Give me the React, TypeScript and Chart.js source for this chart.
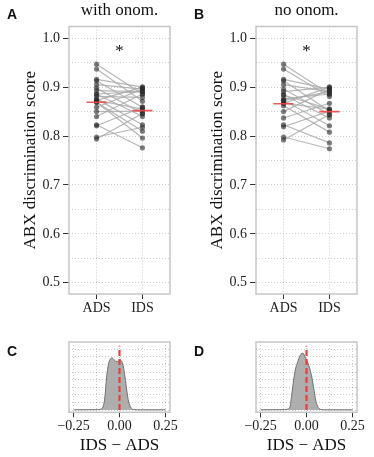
import React, { useEffect, useRef } from 'react';
import { Chart, registerables } from 'chart.js';
Chart.register(...registerables);

// ---------- data ----------
const conditions = ['ADS', 'IDS'];
const panelTitles = ['with onom.', 'no onom.'];
const panelLetters = ['A', 'B', 'C', 'D'];
const scoreTickLabels = [0.5, 0.6, 0.7, 0.8, 0.9, 1.0];
const scoreGrid = [0.5, 0.55, 0.6, 0.65, 0.7, 0.75, 0.8, 0.85, 0.9, 0.95, 1.0];

const adsWithOnom = [0.947, 0.937, 0.916, 0.913, 0.905, 0.898, 0.893, 0.886, 0.881, 0.876, 0.873, 0.869, 0.859, 0.85, 0.84, 0.823, 0.821, 0.798, 0.794, 0.869, 0.886, 0.873];
const idsWithOnom = [0.886, 0.871, 0.9, 0.859, 0.896, 0.846, 0.891, 0.84, 0.879, 0.823, 0.855, 0.81, 0.896, 0.851, 0.886, 0.776, 0.859, 0.818, 0.846, 0.796, 0.891, 0.9];
const meansWithOnom = [0.869, 0.852];

const adsNoOnom = [0.947, 0.937, 0.916, 0.913, 0.905, 0.896, 0.891, 0.884, 0.876, 0.873, 0.867, 0.862, 0.85, 0.837, 0.823, 0.819, 0.798, 0.792, 0.873, 0.867, 0.884];
const idsNoOnom = [0.886, 0.881, 0.896, 0.851, 0.891, 0.844, 0.9, 0.837, 0.886, 0.821, 0.855, 0.808, 0.896, 0.867, 0.786, 0.851, 0.774, 0.844, 0.891, 0.9, 0.855];
const meansNoOnom = [0.866, 0.85];

const diffValues = [-0.25, -0.12, -0.1, -0.09, -0.08, -0.07, -0.06, -0.05, -0.04, -0.03, -0.02, -0.01, 0.0, 0.01, 0.02, 0.03, 0.04, 0.05, 0.06, 0.07, 0.08, 0.1, 0.25];
const densityWithOnom = [0.05, 0.1, 0.26, 0.8, 3.2, 8.7, 12.1, 13.4, 13.7, 13.3, 12.8, 12.8, 13.2, 13.0, 11.6, 8.7, 5.0, 2.1, 0.8, 0.26, 0.12, 0.05, 0.05];
const densityNoOnom = [0.05, 0.1, 0.26, 0.8, 4.2, 7.9, 10.8, 12.4, 13.7, 14.7, 15.0, 14.2, 13.2, 12.1, 10.5, 8.4, 5.5, 2.6, 1.05, 0.34, 0.13, 0.05, 0.05];
const diffTicks = [-0.25, 0, 0.25];
const diffTickLabels = ['\u22120.25', '0.00', '0.25'];
const diffGrid = [-0.25, -0.125, 0, 0.125, 0.25];
const densityGrid = [0, 2, 4, 6, 8, 10, 12, 14, 16];
const refLineTop = 16.7;

// ---------- styles ----------
const SERIF = 'Liberation Serif';
const SANS = 'Liberation Sans';
const GRID_COLOR = 'rgba(0,0,0,0.2)';
const FRAME_COLOR = '#c6c6c6';

const textPlugin = (items: any[]) => ({
  id: 'texts',
  afterDraw(chart: any) {
    const ctx = chart.ctx;
    const ca = chart.chartArea;
    ctx.save();
    ctx.strokeStyle = FRAME_COLOR;
    ctx.lineWidth = 1.5;
    ctx.strokeRect(ca.left, ca.top, ca.right - ca.left, ca.bottom - ca.top);
    for (const it of items) {
      const p = it.pos(chart);
      ctx.font = it.font;
      ctx.fillStyle = it.color || '#111';
      ctx.textAlign = it.align || 'left';
      ctx.textBaseline = 'alphabetic';
      ctx.fillText(it.text, p.x, p.y);
    }
    ctx.restore();
  },
});

function scoreConfig(ads: number[], ids: number[], means: number[], title: string, letter: string) {
  const pairSets = ads.map((a, i) => ({
    data: [{ x: 1, y: a }, { x: 2, y: ids[i] }],
    showLine: true,
    borderColor: 'rgba(170,170,170,0.85)',
    borderWidth: 1.2,
    pointRadius: 0,
    order: 3,
  }));
  const pointSet = {
    data: [...ads.map((y) => ({ x: 1, y })), ...ids.map((y) => ({ x: 2, y }))],
    pointRadius: 2.6,
    pointBackgroundColor: 'rgba(40,40,40,0.6)',
    pointBorderWidth: 0,
    order: 2,
  };
  const meanSets = means.map((m, i) => ({
    data: [{ x: i + 1 - 0.22, y: m }, { x: i + 1 + 0.22, y: m }],
    showLine: true,
    borderColor: 'rgba(240,70,70,0.9)',
    borderWidth: 1.6,
    pointRadius: 0,
    order: 1,
  }));
  return {
    type: 'scatter',
    data: { datasets: [...meanSets, pointSet, ...pairSets] },
    options: {
      animation: false,
      responsive: false,
      events: [],
      layout: { padding: { top: 26.5, right: 17, left: 0, bottom: 0 } },
      plugins: { legend: { display: false }, tooltip: { enabled: false } },
      scales: {
        x: {
          type: 'linear',
          min: 0.4,
          max: 2.6,
          afterBuildTicks: (s: any) => { s.ticks = [{ value: 1 }, { value: 2 }]; },
          afterFit: (s: any) => { s.height = 26; },
          ticks: {
            autoSkip: false,
            callback: (v: number) => conditions[Math.round(v) - 1],
            font: { family: SERIF, size: 14 },
            color: '#222',
            padding: 1,
            maxRotation: 0,
          },
          grid: { color: GRID_COLOR, lineWidth: 1, tickLength: 5, tickColor: '#333', tickWidth: 1 },
          border: { display: false, dash: [1, 2] },
        },
        y: {
          type: 'linear',
          min: 0.477,
          max: 1.024,
          afterBuildTicks: (s: any) => { s.ticks = scoreGrid.map((v) => ({ value: v })); },
          afterFit: (s: any) => { s.width = 69; },
          ticks: {
            autoSkip: false,
            callback: (v: number) => (scoreTickLabels.some((t) => Math.abs(t - v) < 1e-6) ? v.toFixed(1) : ''),
            font: { family: SERIF, size: 14 },
            color: '#222',
            padding: 3,
          },
          grid: {
            color: GRID_COLOR,
            lineWidth: 1,
            tickLength: 6,
            tickWidth: 1,
            tickColor: (c: any) => (c.tick && scoreTickLabels.some((t) => Math.abs(t - c.tick.value) < 1e-6) ? '#333' : 'rgba(0,0,0,0)'),
          },
          border: { display: false, dash: [1, 2] },
          title: {
            display: true,
            text: 'ABX discrimination score',
            font: { family: SERIF, size: 17 },
            color: '#111',
            padding: { top: 20, bottom: 0 },
          },
        },
      },
    },
    plugins: [
      textPlugin([
        { text: letter, font: `bold 14px ${SANS}`, pos: () => ({ x: 7, y: 19 }) },
        { text: title, font: `17px ${SERIF}`, align: 'center', pos: (ch: any) => ({ x: (ch.chartArea.left + ch.chartArea.right) / 2, y: 15 }) },
        { text: '*', font: `17px ${SERIF}`, align: 'center', pos: (ch: any) => ({ x: ch.scales.x.getPixelForValue(1.5), y: ch.scales.y.getPixelForValue(0.98) + 8 }) },
      ]),
    ],
  };
}

function densityConfig(dens: number[], letter: string) {
  return {
    type: 'scatter',
    data: {
      datasets: [
        {
          data: [{ x: 0, y: 0 }, { x: 0, y: refLineTop }],
          showLine: true,
          borderColor: 'rgb(238,60,60)',
          borderWidth: 2.2,
          borderDash: [6, 3],
          pointRadius: 0,
          order: 0,
        },
        {
          data: diffValues.map((x, i) => ({ x, y: dens[i] })),
          showLine: true,
          fill: 'origin',
          backgroundColor: 'rgba(160,160,160,0.85)',
          borderColor: '#707070',
          borderWidth: 1,
          cubicInterpolationMode: 'monotone',
          pointRadius: 0,
          order: 1,
        },
      ],
    },
    options: {
      animation: false,
      responsive: false,
      events: [],
      layout: { padding: { top: 22, right: 17, left: 0, bottom: 0 } },
      plugins: { legend: { display: false }, tooltip: { enabled: false } },
      scales: {
        x: {
          type: 'linear',
          min: -0.275,
          max: 0.275,
          afterBuildTicks: (s: any) => { s.ticks = diffGrid.map((v) => ({ value: v })); },
          afterFit: (s: any) => { s.height = 44.7; },
          ticks: {
            autoSkip: false,
            maxRotation: 0,
            callback: (v: number) => {
              const i = diffTicks.findIndex((t) => Math.abs(t - v) < 1e-6);
              return i >= 0 ? diffTickLabels[i] : '';
            },
            font: { family: SERIF, size: 14 },
            color: '#222',
            padding: 1,
          },
          grid: {
            color: GRID_COLOR,
            lineWidth: 1,
            tickLength: 5,
            tickWidth: 1,
            tickColor: (c: any) => (c.tick && diffTicks.some((t) => Math.abs(t - c.tick.value) < 1e-6) ? '#333' : 'rgba(0,0,0,0)'),
          },
          border: { display: false, dash: [1, 2] },
          title: {
            display: true,
            text: 'IDS \u2212 ADS',
            font: { family: SERIF, size: 17 },
            color: '#111',
            padding: { top: 0, bottom: 1 },
          },
        },
        y: {
          type: 'linear',
          min: -0.6,
          max: 17.9,
          afterBuildTicks: (s: any) => { s.ticks = densityGrid.map((v) => ({ value: v })); },
          afterFit: (s: any) => { s.width = 69; },
          ticks: { display: false },
          grid: { color: GRID_COLOR, lineWidth: 1, drawTicks: false },
          border: { display: false, dash: [1, 2] },
        },
      },
    },
    plugins: [textPlugin([{ text: letter, font: `bold 14px ${SANS}`, pos: () => ({ x: 7, y: 356 - 320 }) }])],
  };
}

function ChartCanvas({ config, left, top, width, height }: any) {
  const ref = useRef<HTMLCanvasElement>(null);
  useEffect(() => {
    const chart = new Chart(ref.current as HTMLCanvasElement, config);
    return () => chart.destroy();
  }, []);
  return (
    <canvas
      ref={ref}
      width={width}
      height={height}
      style={{ position: 'absolute', left, top, width, height }}
    />
  );
}

export default function App() {
  return (
    <div style={{ position: 'fixed', left: 0, top: 0, width: 374, height: 457, background: '#fff' }}>
      <ChartCanvas config={scoreConfig(adsWithOnom, idsWithOnom, meansWithOnom, panelTitles[0], panelLetters[0])} left={0} top={0} width={187} height={320} />
      <ChartCanvas config={scoreConfig(adsNoOnom, idsNoOnom, meansNoOnom, panelTitles[1], panelLetters[1])} left={187} top={0} width={187} height={320} />
      <ChartCanvas config={densityConfig(densityWithOnom, panelLetters[2])} left={0} top={320} width={187} height={137} />
      <ChartCanvas config={densityConfig(densityNoOnom, panelLetters[3])} left={187} top={320} width={187} height={137} />
    </div>
  );
}
